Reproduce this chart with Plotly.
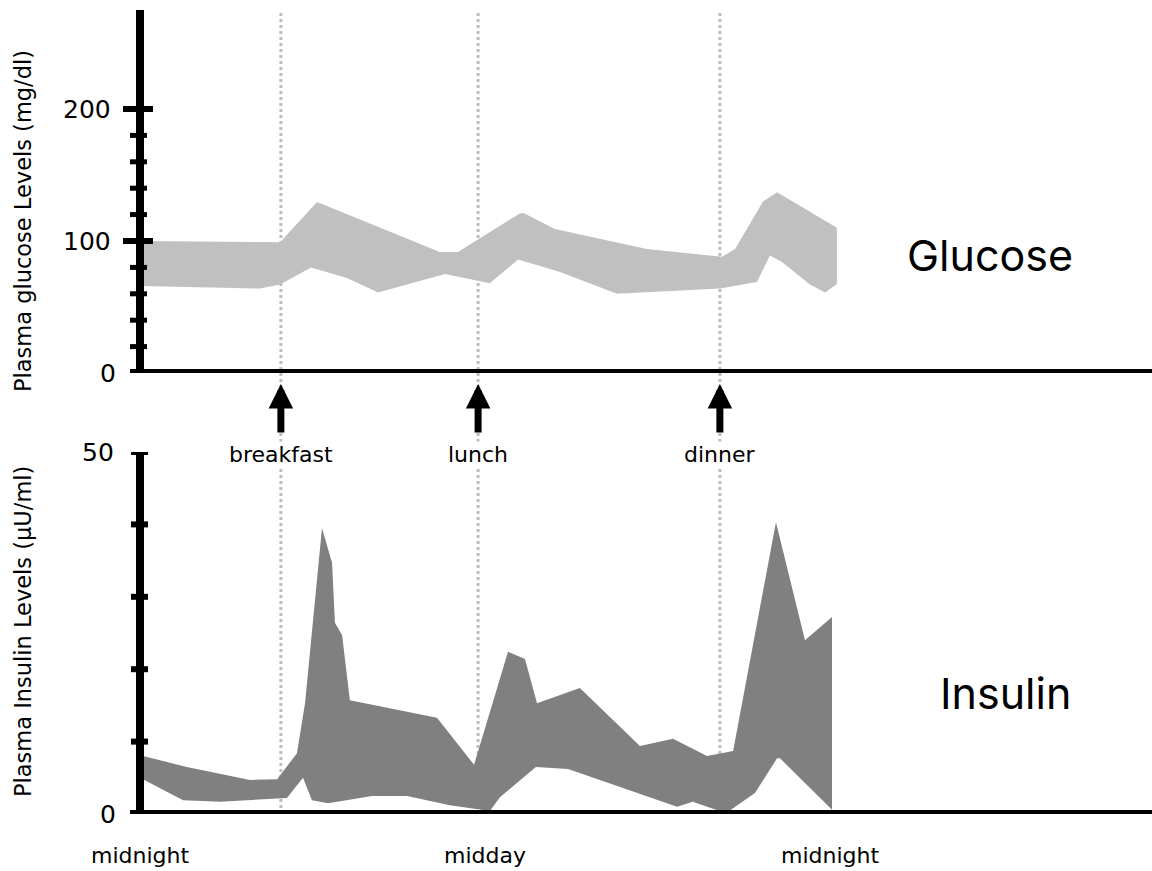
import plotly.graph_objects as go

# ---------------- data (hours after midnight, values) ----------------
glucose_upper_t = [0.0, 4.87, 6.16, 10.43, 11.06, 13.22, 13.36, 14.43, 17.63, 20.24, 20.70, 21.67, 22.16, 24.24]
glucose_upper_v = [100, 99, 129.5, 91.7, 91.7, 121, 121, 109, 94, 88, 94, 130, 137, 110]
glucose_lower_t = [0.0, 4.17, 4.87, 5.95, 7.20, 8.28, 10.61, 12.17, 13.15, 14.61, 16.59, 20.17, 21.46, 21.91, 22.33, 23.30, 23.83, 24.24]
glucose_lower_v = [66, 64, 67, 80, 72, 61, 75, 68, 86, 76.5, 60, 64, 69, 89, 84, 67, 61, 67.5]

insulin_upper_t = [0.0, 1.63, 3.83, 4.77, 5.46, 5.74, 6.33, 6.68, 6.78, 7.03, 7.30, 10.33, 11.62, 12.80, 13.39, 13.81, 15.30, 17.39, 18.54, 19.72, 20.63, 22.12, 23.13, 24.07]
insulin_upper_v = [8.1, 6.5, 4.7, 4.8, 8.4, 15.3, 39.5, 34.7, 26.4, 24.7, 15.7, 13.3, 6.8, 22.4, 21.4, 15.3, 17.4, 9.4, 10.4, 8.0, 8.7, 40.3, 24.0, 27.2]
insulin_lower_t = [0.0, 1.50, 2.78, 5.11, 5.67, 5.98, 6.54, 8.07, 9.29, 10.78, 12.17, 12.52, 13.77, 14.89, 18.68, 19.23, 20.38, 21.39, 22.16, 22.26, 24.07]
insulin_lower_v = [5.0, 1.9, 1.7, 2.2, 5.0, 1.9, 1.5, 2.5, 2.5, 1.2, 0.4, 2.3, 6.5, 6.2, 1.0, 1.7, 0.1, 2.9, 7.7, 7.7, 0.6]

meal_names = ["breakfast", "lunch", "dinner"]
meal_times = [4.9, 11.76, 20.17]

time_labels = ["midnight", "midday", "midnight"]
time_label_pos = [0, 12, 24]

glucose_major_ticks = [100, 200]
glucose_minor_ticks = [20, 40, 60, 80, 120, 140, 160, 180]
glucose_tick_labels = ["0", "100", "200"]
glucose_tick_vals = [0, 100, 200]
insulin_ticks = [10, 20, 30, 40, 50]
insulin_tick_labels = ["0", "50"]
insulin_tick_vals = [0, 50]

# ---------------- layout helpers ----------------
W, H = 1152, 871
def px_x(p):
    return p / W
def px_y(p):
    return 1 - p / H

PX_PER_HOUR = 28.75
AXIS_X = 140
x_range = [0, (W - AXIS_X) / PX_PER_HOUR]

FONT = "DejaVu Sans"

fig = go.Figure()

fig.add_trace(go.Scatter(
    x=glucose_upper_t + glucose_lower_t[::-1],
    y=glucose_upper_v + glucose_lower_v[::-1],
    fill="toself", fillcolor="#c0c0c0", mode="lines",
    line=dict(width=0, color="#c0c0c0"), hoverinfo="skip",
    xaxis="x", yaxis="y", showlegend=False))

fig.add_trace(go.Scatter(
    x=insulin_upper_t + insulin_lower_t[::-1],
    y=insulin_upper_v + insulin_lower_v[::-1],
    fill="toself", fillcolor="#808080", mode="lines",
    line=dict(width=0, color="#808080"), hoverinfo="skip",
    xaxis="x2", yaxis="y2", showlegend=False))

ax_common = dict(visible=False, showgrid=False, zeroline=False, fixedrange=True)

shapes = []
annotations = []

# dotted meal lines
for t in meal_times:
    shapes.append(dict(type="line", xref="x", yref="paper", x0=t, x1=t,
                       y0=px_y(814), y1=px_y(10), layer="below",
                       line=dict(color="#bdbdbd", width=3, dash="3px,3px")))

AX_W = 8
# glucose axes
shapes.append(dict(type="line", xref="paper", yref="y domain", x0=px_x(AXIS_X), x1=px_x(AXIS_X),
                   y0=0, y1=1, line=dict(color="black", width=AX_W)))
shapes.append(dict(type="line", xref="paper", yref="y", x0=px_x(130), x1=1,
                   y0=0, y1=0, line=dict(color="black", width=AX_W)))
for v in glucose_major_ticks:
    shapes.append(dict(type="line", xref="paper", yref="y", x0=px_x(123), x1=px_x(153),
                       y0=v, y1=v, line=dict(color="black", width=6)))
for v in glucose_minor_ticks:
    shapes.append(dict(type="line", xref="paper", yref="y", x0=px_x(130), x1=px_x(147),
                       y0=v, y1=v, line=dict(color="black", width=5)))
# insulin axes
shapes.append(dict(type="line", xref="paper", yref="y2 domain", x0=px_x(AXIS_X), x1=px_x(AXIS_X),
                   y0=0, y1=1, line=dict(color="black", width=AX_W)))
shapes.append(dict(type="line", xref="paper", yref="y2", x0=px_x(130), x1=1,
                   y0=0, y1=0, line=dict(color="black", width=AX_W)))
for v in insulin_ticks:
    shapes.append(dict(type="line", xref="paper", yref="y2", x0=px_x(131), x1=px_x(148),
                       y0=v, y1=v, line=dict(color="black", width=6)))

# tick labels
g_label_right = {0: 118, 100: 113, 200: 113}
for v, lab in zip(glucose_tick_vals, glucose_tick_labels):
    annotations.append(dict(text=lab, xref="paper", yref="y", x=px_x(g_label_right[v]), y=v,
                            xanchor="right", yanchor="middle", showarrow=False,
                            font=dict(family=FONT, size=25, color="black")))
i_label_right = {0: 118, 50: 116}
for v, lab in zip(insulin_tick_vals, insulin_tick_labels):
    annotations.append(dict(text=lab, xref="paper", yref="y2", x=px_x(i_label_right[v]), y=v,
                            xanchor="right", yanchor="middle", showarrow=False,
                            font=dict(family=FONT, size=25, color="black")))

# arrows and meal labels
for t, name in zip(meal_times, meal_names):
    annotations.append(dict(text="", xref="x", yref="paper", x=t, y=px_y(384),
                            ax=0, ay=50, showarrow=True, arrowhead=2, arrowsize=0.7,
                            arrowwidth=7, arrowcolor="black"))
    annotations.append(dict(text=name, xref="x", yref="paper", x=t, y=px_y(455),
                            xanchor="center", yanchor="middle", showarrow=False,
                            bgcolor="white", borderpad=0,
                            font=dict(family=FONT, size=22, color="black")))

# time labels
for t, lab in zip(time_label_pos, time_labels):
    annotations.append(dict(text=lab, xref="x", yref="paper", x=t, y=px_y(855),
                            xanchor="center", yanchor="middle", showarrow=False,
                            font=dict(family=FONT, size=22, color="black")))

# axis titles
annotations.append(dict(text="Plasma glucose Levels (mg/dl)", xref="paper", yref="paper",
                        x=px_x(23), y=px_y(221), textangle=-90, showarrow=False,
                        xanchor="center", yanchor="middle",
                        font=dict(family=FONT, size=22.5, color="black")))
annotations.append(dict(text="Plasma Insulin Levels (µU/ml)", xref="paper", yref="paper",
                        x=px_x(23), y=px_y(632), textangle=-90, showarrow=False,
                        xanchor="center", yanchor="middle",
                        font=dict(family=FONT, size=22.5, color="black")))

# series names
annotations.append(dict(text="Glucose", xref="paper", yref="paper", x=px_x(990), y=px_y(255),
                        showarrow=False, xanchor="center", yanchor="middle",
                        font=dict(family="Inter", size=43, color="black")))
annotations.append(dict(text="Insulin", xref="paper", yref="paper", x=px_x(1005), y=px_y(693),
                        showarrow=False, xanchor="center", yanchor="middle",
                        font=dict(family="Inter", size=43, color="black")))

fig.update_layout(
    width=W, height=H, margin=dict(l=0, r=0, t=0, b=0),
    paper_bgcolor="white", plot_bgcolor="rgba(0,0,0,0)",
    showlegend=False,
    xaxis=dict(domain=[px_x(AXIS_X), 1], range=x_range, anchor="y", **ax_common),
    yaxis=dict(domain=[px_y(373), px_y(10)], range=[0, (373 - 10) / 1.32], anchor="x", **ax_common),
    xaxis2=dict(domain=[px_x(AXIS_X), 1], range=x_range, anchor="y2", **ax_common),
    yaxis2=dict(domain=[px_y(814), px_y(452)], range=[0, 50], anchor="x2", **ax_common),
    shapes=shapes, annotations=annotations,
)

fig.write_html("out.html")
